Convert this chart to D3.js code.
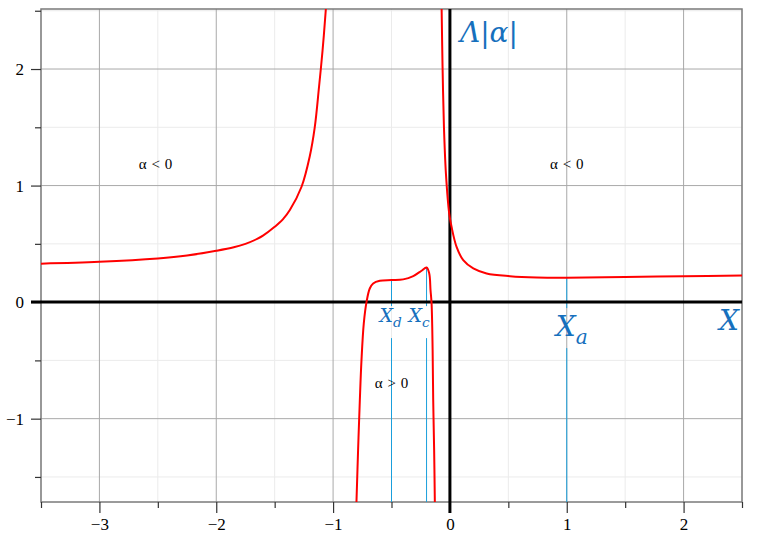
<!DOCTYPE html>
<html>
<head>
<meta charset="utf-8">
<script src="https://cdn.jsdelivr.net/npm/d3@7"></script>
<style>
  html, body { margin: 0; padding: 0; background: #fff; }
  svg { display: block; }
</style>
</head>
<body>
<svg id="chart" width="757" height="540"></svg>
<script>
// ---- data ----
const xMajorTicks = [-3, -2, -1, 0, 1, 2];
const xMinorTicks = [-3.5, -2.5, -1.5, -0.5, 0.5, 1.5, 2.5];
const yMajorTicks = [-1, 0, 1, 2];
const yMinorTicks = [-1.5, -0.5, 0.5, 1.5, 2.5];

// left branch (x < pole near -1.05)
const branch1X = [-3.5, -3.0, -2.5, -2.25, -2.0, -1.85, -1.75, -1.65, -1.6, -1.5, -1.43, -1.37, -1.27, -1.2, -1.157, -1.12, -1.09, -1.063, -1.056];
const branch1Y = [0.33, 0.346, 0.375, 0.40, 0.44, 0.47, 0.50, 0.542, 0.57, 0.646, 0.71, 0.79, 0.99, 1.25, 1.5, 1.85, 2.16, 2.5, 2.62];

// middle branch (between -0.8 and -0.13)
const branch2X = [-0.803, -0.80, -0.786, -0.771, -0.757, -0.737, -0.714, -0.686, -0.657, -0.6, -0.5, -0.4, -0.314, -0.243, -0.2, -0.177, -0.166, -0.157, -0.148, -0.143, -0.135, -0.129, -0.128];
const branch2Y = [-1.8, -1.72, -1.27, -0.84, -0.50, -0.18, 0.0, 0.117, 0.16, 0.183, 0.189, 0.195, 0.223, 0.269, 0.297, 0.246, 0.103, -0.011, -0.41, -0.84, -1.27, -1.72, -1.8];

// right branch (x > pole near -0.075)
const branch3X = [-0.073, -0.071, -0.063, -0.051, -0.034, -0.006, 0.014, 0.057, 0.114, 0.2, 0.314, 0.514, 0.743, 1.0, 1.5, 2.0, 2.5];
const branch3Y = [2.62, 2.52, 2.02, 1.5, 1.1, 0.76, 0.646, 0.474, 0.36, 0.289, 0.246, 0.223, 0.212, 0.21, 0.215, 0.222, 0.228];

// marked abscissas
const markNames = ["d", "c", "a"];
const markX = [-0.5, -0.2, 1.0];
const markY = [0.189, 0.297, 0.21];

// region notes
const noteText = ["α < 0", "α < 0", "α > 0"];
const noteX = [-2.52, 1.0, -0.5];
const noteY = [1.145, 1.145, -0.74];

// ---- drawing ----
const W = 757, H = 540;
const L = 41, R = 742, T = 9, B = 502;
const svg = d3.select("#chart");

const x = d3.scaleLinear().domain([-3.5, 2.5]).range([L, R]);
const y = d3.scaleLinear().domain([-1.715, 2.515]).range([B, T]);

const serif = "'Liberation Serif', 'Times New Roman', serif";
const blue = "#1670bd";
const lineBlue = "#1a9fdc";
const minus = v => (v < 0 ? "\u2212" + Math.abs(v) : String(v));

// minor grid
const grid = svg.append("g");
xMinorTicks.forEach(v => grid.append("line")
  .attr("x1", x(v)).attr("x2", x(v)).attr("y1", T).attr("y2", B)
  .attr("stroke", "#ebebeb").attr("stroke-width", 1));
yMinorTicks.forEach(v => grid.append("line")
  .attr("x1", L).attr("x2", R).attr("y1", y(v)).attr("y2", y(v))
  .attr("stroke", "#ebebeb").attr("stroke-width", 1));
// major grid
xMajorTicks.forEach(v => grid.append("line")
  .attr("x1", x(v)).attr("x2", x(v)).attr("y1", T).attr("y2", B)
  .attr("stroke", "#a9a9a9").attr("stroke-width", 1));
yMajorTicks.forEach(v => grid.append("line")
  .attr("x1", L).attr("x2", R).attr("y1", y(v)).attr("y2", y(v))
  .attr("stroke", "#a9a9a9").attr("stroke-width", 1));

// frame
svg.append("rect").attr("x", L).attr("y", T).attr("width", R - L).attr("height", B - T)
  .attr("fill", "none").attr("stroke", "#7a7a7a").attr("stroke-width", 1.5);

// axes ticks via d3 axes
const styleAxis = g => {
  g.select(".domain").remove();
  g.selectAll(".tick line").attr("stroke", "#333").attr("stroke-width", 1.2);
  g.selectAll(".tick text").attr("font-family", serif).attr("font-size", 17).attr("fill", "#000");
};
svg.append("g").attr("transform", `translate(0,${B})`)
  .call(d3.axisBottom(x).tickValues(xMinorTicks).tickSize(6).tickFormat(""))
  .call(styleAxis);
svg.append("g").attr("transform", `translate(0,${B})`)
  .call(d3.axisBottom(x).tickValues(xMajorTicks).tickSize(11).tickPadding(5).tickFormat(minus))
  .call(styleAxis);
svg.append("g").attr("transform", `translate(${L},0)`)
  .call(d3.axisLeft(y).tickValues(yMinorTicks).tickSize(6).tickFormat(""))
  .call(styleAxis);
svg.append("g").attr("transform", `translate(${L},0)`)
  .call(d3.axisLeft(y).tickValues(yMajorTicks).tickSize(10).tickPadding(7).tickFormat(minus))
  .call(styleAxis);

// marker vertical lines (broken around labels)
const gapTop = [4, 4, 6];
const gapBottom = [36, 36, 46];
markX.forEach((v, i) => {
  svg.append("line").attr("x1", x(v)).attr("x2", x(v))
    .attr("y1", y(markY[i])).attr("y2", y(0) + gapTop[i])
    .attr("stroke", lineBlue).attr("stroke-width", 1);
  svg.append("line").attr("x1", x(v)).attr("x2", x(v))
    .attr("y1", y(0) + gapBottom[i]).attr("y2", B)
    .attr("stroke", lineBlue).attr("stroke-width", 1);
});

// thick axes through origin
svg.append("line").attr("x1", L - 10).attr("x2", R).attr("y1", y(0)).attr("y2", y(0))
  .attr("stroke", "#000").attr("stroke-width", 3);
svg.append("line").attr("x1", x(0)).attr("x2", x(0)).attr("y1", T).attr("y2", B + 11)
  .attr("stroke", "#000").attr("stroke-width", 3);

// curve
svg.append("clipPath").attr("id", "clip").append("rect")
  .attr("x", L).attr("y", T).attr("width", R - L).attr("height", B - T);
const line = d3.line().x(d => x(d[0])).y(d => y(d[1])).curve(d3.curveCatmullRom.alpha(0.5));
[[branch1X, branch1Y], [branch2X, branch2Y], [branch3X, branch3Y]].forEach(([xs, ys]) => {
  svg.append("path").datum(xs.map((v, i) => [v, ys[i]]))
    .attr("d", line).attr("clip-path", "url(#clip)")
    .attr("fill", "none").attr("stroke", "#ff0000").attr("stroke-width", 2);
});

// region notes
noteText.forEach((t, i) => {
  svg.append("text").attr("x", x(noteX[i])).attr("y", y(noteY[i]))
    .attr("text-anchor", "middle").attr("font-family", serif).attr("font-size", 15)
    .attr("word-spacing", 1).attr("fill", "#000").text(t);
});

// math labels
const mathFont = "'DejaVu Serif', 'Liberation Serif', serif";
const labSize = [19, 19, 28];
const labBase = [322, 322, 336];
const labShift = [-12, -18, -11];
markNames.forEach((n, i) => {
  const t = svg.append("text").attr("x", x(markX[i]) + labShift[i]).attr("y", labBase[i])
    .attr("font-family", mathFont).attr("font-style", "italic")
    .attr("font-size", labSize[i]).attr("fill", blue);
  t.append("tspan").text("X");
  t.append("tspan").attr("font-size", labSize[i] * 0.72).attr("dy", labSize[i] * 0.28).text(n);
});
svg.append("text").attr("x", R - 3).attr("y", 330).attr("text-anchor", "end")
  .attr("font-family", mathFont).attr("font-style", "italic").attr("font-size", 28)
  .attr("fill", blue).text("X");
svg.append("text").attr("x", x(0) + 10).attr("y", 42)
  .attr("font-family", mathFont).attr("font-style", "italic").attr("font-size", 28)
  .attr("fill", blue).text("Λ|α|");
</script>
</body>
</html>
